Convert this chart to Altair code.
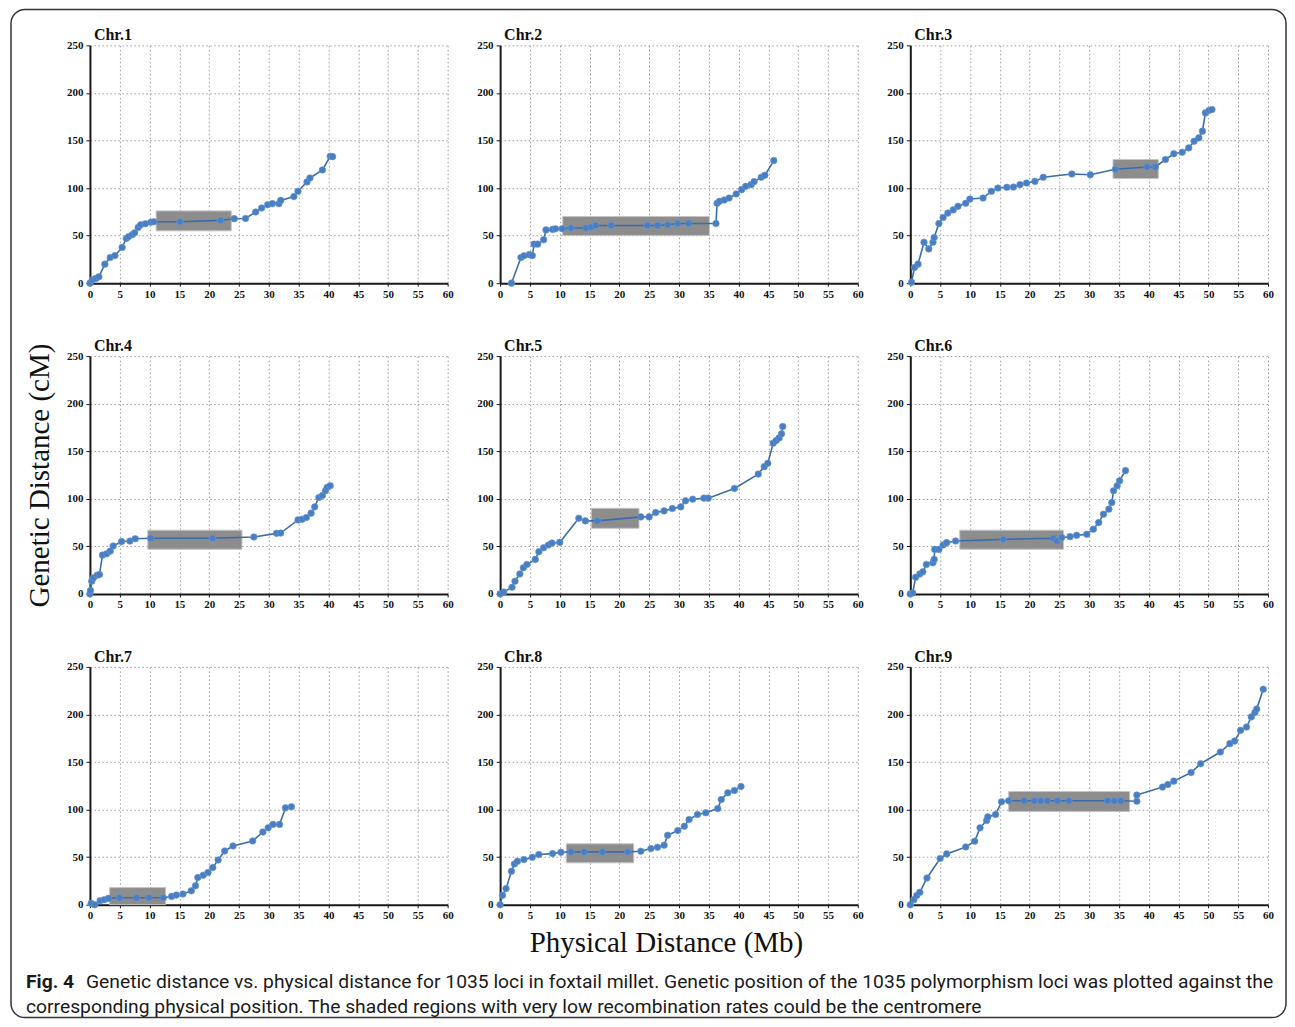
import altair as alt
import pandas as pd

# ---------------- data ----------------
CHR_NAMES = ["Chr.1", "Chr.2", "Chr.3", "Chr.4", "Chr.5", "Chr.6", "Chr.7", "Chr.8", "Chr.9"]

CHR1_X = [0, 0.4, 1, 1.5, 2.5, 3.4, 4.2, 5.4, 6.1, 6.5, 7.1, 7.5, 8.1, 8.5, 9.3, 10.2, 10.7, 15.1, 21.9, 24.2, 26.1, 27.8, 28.8, 29.8, 30.6, 31.7, 32.0, 34.2, 34.9, 36.4, 36.9, 39.0, 40.3, 40.7]
CHR1_Y = [0, 3.5, 5, 6.7, 20, 27, 29, 37.6, 47, 49, 51, 53, 58.6, 61.4, 62.5, 64, 64.6, 64.6, 66, 67.8, 68, 74.8, 79, 82.5, 83.6, 83.6, 87, 91, 96.6, 106.4, 110.6, 119, 133.4, 133]

CHR2_X = [1.9, 3.5, 4.0, 4.9, 5.4, 5.7, 6.3, 7.3, 7.7, 8.8, 9.3, 10.4, 11.9, 14.4, 15.3, 16.0, 18.6, 24.7, 26.4, 28.1, 29.8, 31.6, 36.2, 36.4, 36.8, 37.6, 38.4, 39.6, 40.5, 41.2, 42.1, 42.6, 43.8, 44.4, 45.9]
CHR2_Y = [0, 27, 28.8, 30, 29, 41, 41, 45.6, 56, 56.5, 57.2, 57.2, 58, 58, 59, 60.7, 60.7, 60.7, 60.7, 61.4, 62.8, 62.8, 62.8, 84, 86, 87.4, 89.5, 93.8, 98.3, 101.8, 103.6, 106.7, 111.3, 113.4, 128.9]

CHR3_X = [0.2, 0.7, 1.3, 2.3, 3.1, 3.8, 4.0, 4.8, 5.5, 6.3, 7.2, 8.0, 9.3, 10.0, 12.2, 13.6, 14.7, 16.2, 17.3, 18.4, 19.5, 20.9, 22.3, 27.1, 30.2, 34.4, 39.7, 41.1, 42.8, 44.2, 45.6, 46.7, 47.6, 48.4, 49.0, 49.5, 50.1, 50.6]
CHR3_Y = [1, 16.5, 20, 43, 36, 43, 48, 62.8, 69, 73.7, 77, 80.8, 84, 88.5, 89.5, 96.6, 100, 100.8, 101, 103.6, 105.3, 107, 111.3, 114.8, 114, 119.7, 122.2, 122.2, 130, 136, 137.6, 142.2, 149.2, 152.7, 159.8, 179, 181.5, 182.6]

CHR4_X = [0, 0.1, 0.3, 0.6, 1.2, 1.6, 2.1, 2.8, 3.4, 3.9, 5.3, 6.7, 7.6, 10.2, 20.6, 27.5, 31.3, 32.0, 34.9, 35.6, 36.3, 37.1, 37.7, 38.4, 39.0, 39.5, 39.8, 40.3]
CHR4_Y = [0, 3.5, 13.4, 17, 19.7, 20.4, 40.8, 42.2, 45, 50.4, 55, 55.6, 58, 58.5, 58.5, 59.9, 63.7, 64, 77.8, 78.5, 80.3, 84.9, 91.5, 101.4, 103.5, 108.5, 112, 113.7]

CHR5_X = [0, 0.6, 2.0, 2.5, 3.3, 3.9, 4.5, 5.9, 6.5, 7.3, 8.1, 8.7, 10.0, 13.2, 14.3, 16.3, 23.6, 25.0, 26.1, 27.5, 28.9, 30.3, 31.1, 32.3, 34.2, 34.9, 39.3, 43.3, 44.3, 44.9, 45.8, 46.3, 46.8, 47.2, 47.4]
CHR5_Y = [0, 2, 7, 13.4, 21, 27.5, 31, 36.3, 44.4, 48.6, 51.4, 53.5, 54.2, 79.6, 76.8, 76.8, 81, 81, 85.6, 87.3, 89.8, 91.5, 97.9, 99.6, 100.7, 100.7, 110.9, 126, 133.8, 137.3, 158.5, 161.3, 164, 168.3, 176]

CHR6_X = [0, 0.4, 0.9, 1.6, 2.1, 2.7, 3.8, 4.0, 4.1, 4.8, 5.5, 6.1, 7.6, 15.6, 24.0, 24.6, 25.4, 26.8, 27.9, 29.6, 30.7, 31.6, 32.4, 33.3, 33.8, 34.1, 34.7, 35.1, 36.1]
CHR6_Y = [0, 1, 17.6, 21, 23.2, 31, 32.7, 36.3, 46.8, 46.8, 51.4, 53.9, 55.6, 57.4, 58.5, 55.6, 59.2, 60.2, 61.6, 62.7, 68, 75, 83.8, 89.1, 96.1, 108.5, 113.7, 119, 129.6]

CHR7_X = [0.2, 0.8, 1.7, 2.4, 3.1, 5.0, 7.8, 9.9, 12.3, 13.7, 14.5, 15.6, 17.0, 17.7, 18.1, 19.0, 19.8, 20.6, 21.5, 22.6, 24.0, 27.3, 29.0, 29.9, 30.7, 31.8, 32.8, 33.8]
CHR7_Y = [1.4, 0, 4.2, 5.2, 6.6, 7.3, 7.3, 7.3, 7.3, 8.7, 10.1, 11.2, 14.6, 19.9, 28.6, 31, 33.8, 39, 47, 56.5, 61.7, 67, 76.4, 80.9, 84.4, 84.4, 101.8, 102.9]

CHR8_X = [0, 0.4, 1.0, 1.9, 2.4, 2.9, 4.0, 5.4, 6.5, 8.8, 10.2, 11.9, 14.1, 17.2, 21.4, 23.6, 25.3, 26.4, 27.5, 28.1, 29.8, 30.9, 31.7, 33.1, 34.5, 36.5, 37.1, 38.2, 39.3, 40.4]
CHR8_Y = [0, 9.8, 16.9, 35.1, 42.8, 45.6, 47.4, 49.9, 52.7, 53.7, 55.1, 55.5, 55.5, 55.5, 55.5, 56.2, 59, 60.4, 62.5, 73, 77.9, 82.5, 89.5, 94.8, 96.6, 101, 110.6, 117.6, 120, 124.2]

CHR9_X = [0, 0.6, 1.1, 1.6, 2.8, 5.0, 6.1, 9.3, 10.8, 11.7, 12.8, 13.0, 14.3, 15.3, 16.5, 19.1, 20.8, 21.9, 23.0, 24.7, 26.6, 33.1, 34.2, 35.3, 38.0, 38.0, 42.3, 43.2, 44.2, 47.1, 48.7, 52.0, 53.6, 54.4, 55.4, 56.4, 57.2, 57.8, 58.1, 59.2]
CHR9_Y = [0, 5.3, 9.8, 13, 28.1, 48.5, 53.4, 60.7, 66.7, 80.8, 88.5, 92.3, 94.8, 108.1, 109.2, 109.2, 109.2, 109.2, 109.2, 109.2, 109.2, 109.2, 109.2, 109.2, 108.8, 115.2, 123.6, 126.4, 129.9, 139, 148.2, 160.5, 169.3, 172, 183.3, 186.8, 197.4, 202, 205.6, 226.5]

# shaded (centromere) regions per chromosome
RECT_X1 = [11.1, 10.5, 34.0, 9.7, 15.3, 8.3, 3.3, 11.1, 16.5]
RECT_X2 = [23.7, 35.1, 41.6, 25.5, 23.3, 25.7, 12.7, 22.4, 36.8]
RECT_Y1 = [55, 50, 110, 47, 69, 47, 0, 44, 98]
RECT_Y2 = [76, 70, 130, 67, 90, 67, 18, 64, 119]

X_TICKS = [0, 5, 10, 15, 20, 25, 30, 35, 40, 45, 50, 55, 60]
Y_TICKS = [0, 50, 100, 150, 200, 250]

SERIES = [
    (CHR1_X, CHR1_Y), (CHR2_X, CHR2_Y), (CHR3_X, CHR3_Y),
    (CHR4_X, CHR4_Y), (CHR5_X, CHR5_Y), (CHR6_X, CHR6_Y),
    (CHR7_X, CHR7_Y), (CHR8_X, CHR8_Y), (CHR9_X, CHR9_Y),
]

Y_TITLE = "Genetic Distance (cM)"
X_TITLE = "Physical Distance (Mb)"
CAPTION_BOLD = "Fig. 4"
CAPTION_1 = "Genetic distance vs. physical distance for 1035 loci in foxtail millet. Genetic position of the 1035 polymorphism loci was plotted against the"
CAPTION_2 = "corresponding physical position. The shaded regions with very low recombination rates could be the centromere"

# ---------------- styling ----------------
W, H = 358, 238
POINT = "#4a7ec2"
LINE = "#3d6cab"
SERIF = "Liberation Serif"
CAP_FONT = "Roboto"
CAP_SIZE = 19.3


def make_axis_x(i):
    kw = dict(values=X_TICKS, grid=True, gridColor="#9c9c9c", gridDash=[1.5, 2.5], gridWidth=1,
              domainColor="#1a1a1a", domainWidth=2, tickColor="#1a1a1a", tickSize=3, tickWidth=1,
              labelFont=SERIF, labelFontWeight="bold", labelFontSize=11, labelColor="#111",
              labelPadding=2, labelFlush=False, title=None)
    if i == 7:
        kw.update(title=X_TITLE, titleFont=SERIF, titleFontSize=29, titleFontWeight="normal",
                  titleColor="#111", titleX=166, titleY=47, titleAlign="center",
                  titleBaseline="alphabetic", titleAnchor="middle")
    return alt.Axis(**kw)


def make_axis_y(i):
    kw = dict(values=Y_TICKS, grid=True, gridColor="#9c9c9c", gridDash=[1.5, 2.5], gridWidth=1,
              domainColor="#1a1a1a", domainWidth=2, tickColor="#1a1a1a", tickSize=4, tickWidth=1,
              labelFont=SERIF, labelFontWeight="bold", labelFontSize=11, labelColor="#111",
              labelPadding=3, labelFlush=False, title=None)
    if i == 3:
        kw.update(title=Y_TITLE, titleFont=SERIF, titleFontSize=29, titleFontWeight="normal",
                  titleColor="#111", titleX=-50, titleY=119, titleAngle=270, titleAlign="center",
                  titleBaseline="middle", titleAnchor="middle")
    return alt.Axis(**kw)


def panel(i):
    xs_, ys_ = SERIES[i]
    df = pd.DataFrame({"x": xs_, "y": ys_, "k": list(range(len(xs_)))})
    rdf = pd.DataFrame({"x1": [RECT_X1[i]], "x2": [RECT_X2[i]], "y1": [RECT_Y1[i]], "y2": [RECT_Y2[i]]})
    xsc = alt.Scale(domain=[0, 60], nice=False, zero=False)
    ysc = alt.Scale(domain=[0, 250], nice=False, zero=False)
    ax, ay = make_axis_x(i), make_axis_y(i)

    rect = alt.Chart(rdf).mark_rect(color="#8d8d8d", stroke="#c4c4c4", strokeWidth=1, opacity=1).encode(
        x=alt.X("x1:Q", scale=xsc, axis=ax), x2="x2:Q",
        y=alt.Y("y1:Q", scale=ysc, axis=ay), y2="y2:Q",
    )
    line = alt.Chart(df).mark_line(color=LINE, strokeWidth=1.6).encode(
        x=alt.X("x:Q", scale=xsc, axis=ax), y=alt.Y("y:Q", scale=ysc, axis=ay), order="k:Q",
    )
    pts = alt.Chart(df).mark_circle(color=POINT, size=44, opacity=1, stroke="#6a98d4", strokeWidth=0.6).encode(
        x=alt.X("x:Q", scale=xsc, axis=ax), y=alt.Y("y:Q", scale=ysc, axis=ay),
    )
    one = pd.DataFrame({"a": [0]})
    name = alt.Chart(one).mark_text(text=CHR_NAMES[i], font=SERIF, fontSize=16, fontWeight="bold",
                                    color="#111", align="left", baseline="alphabetic").encode(
        x=alt.value(4), y=alt.value(-5))
    layers = [rect, line, pts, name]

    if i == 0:
        frame = alt.Chart(one).mark_rect(fillOpacity=0, stroke="#333", strokeWidth=1.5, cornerRadius=14).encode(
            x=alt.value(-79), x2=alt.value(1197), y=alt.value(-36), y2=alt.value(973),
        )
        layers.append(frame)
    if i == 6:
        cap_b = alt.Chart(one).mark_text(text=CAPTION_BOLD, font=CAP_FONT, fontSize=CAP_SIZE, fontWeight="bold",
                                         align="left", baseline="alphabetic", color="#1a1a1a").encode(
            x=alt.value(-64), y=alt.value(321))
        cap_1 = alt.Chart(one).mark_text(text=CAPTION_1, font=CAP_FONT, fontSize=CAP_SIZE, fontWeight="normal",
                                         align="left", baseline="alphabetic", color="#1a1a1a").encode(
            x=alt.value(-4), y=alt.value(321))
        cap_2 = alt.Chart(one).mark_text(text=CAPTION_2, font=CAP_FONT, fontSize=CAP_SIZE, fontWeight="normal",
                                         align="left", baseline="alphabetic", color="#1a1a1a").encode(
            x=alt.value(-64), y=alt.value(346))
        layers += [cap_b, cap_1, cap_2]

    return alt.layer(*layers).properties(width=W, height=H)


chart = alt.concat(*[panel(i) for i in range(9)], columns=3,
                   spacing={"row": 73, "column": 52.5}, bounds="flush").properties(
    padding={"left": 2, "top": 0, "right": 0, "bottom": 0},
    background="white",
).configure_view(stroke=None)

chart.save("out.html", embed_options={"renderer": "svg", "actions": False})
